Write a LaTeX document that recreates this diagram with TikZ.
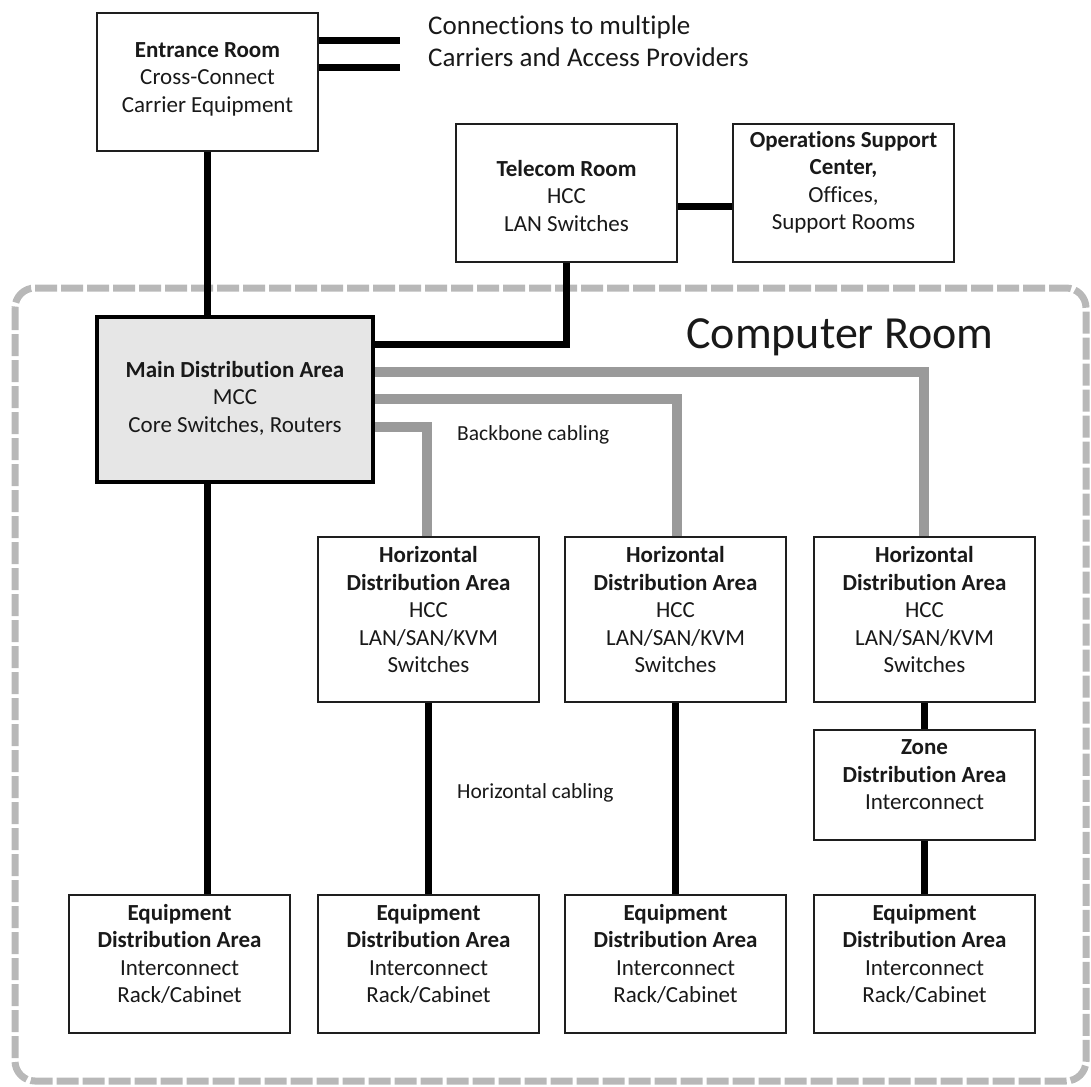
\documentclass[tikz,border=0pt]{standalone}
\usepackage{fontspec}
\setmainfont{Carlito}[Ligatures=NoCommon]
\definecolor{edge}{HTML}{1E1E1E}
\definecolor{bbgray}{HTML}{9A9A9A}
\definecolor{roomgray}{HTML}{B8B8B8}
\definecolor{mdafill}{HTML}{E6E6E6}
\pgfdeclarelayer{bg}
\pgfsetlayers{bg,main}
\begin{document}
\begin{tikzpicture}[x=1pt,y=-1pt,
  box/.style={draw=edge, line width=2pt, fill=white, minimum width=221pt, inner sep=0pt},
  txt/.style={align=center, inner sep=0pt, text=black!90, font=\fontsize{23}{27.5}\selectfont},
  note/.style={anchor=west, inner sep=0pt, text=black!90, font=\fontsize{21.5}{24}\selectfont},
  wire/.style={line width=7pt, black},
  backbone/.style={line width=10pt, bbgray},
  roomline/.style={line width=7pt, roomgray, dash pattern=on 22pt off 4pt, rounded corners=20pt}]
\useasboundingbox (0,0) rectangle (1091,1086);

% rooms outside the computer room
\node[box, minimum height=138pt] (entr) at (207.5,82) {};
\node[txt] (entrt) at (207.5,79) {\textbf{Entrance Room}\\Cross-Connect\\Carrier Equipment};
\node[box, minimum height=138pt] (tele) at (566.5,193) {};
\node[txt] (telet) at (566.5,196) {\textbf{Telecom Room}\\HCC\\LAN Switches};
\node[box, minimum height=138pt] (ops) at (843.5,193) {};
\node[txt] (opst) at (843.5,182.5) {\textbf{Operations Support}\\\textbf{Center,}\\Offices,\\Support Rooms};

\node[anchor=west, align=left, inner sep=0pt, text=black!90, font=\fontsize{27}{32}\selectfont]
  (carr) at (428,41) {Connections to multiple\\Carriers and Access Providers};

% computer room
\node[inner sep=0pt, text=black!90, font=\fontsize{46}{50}\selectfont] (crlabel) at (840,337) {Computer Room};

\node[box, draw=black, line width=3.5pt, fill=mdafill, minimum width=276pt, minimum height=165pt] (mda) at (235,399.5) {};
\node[txt] (mdat) at (235,398) {\textbf{Main Distribution Area}\\MCC\\Core Switches, Routers};

\foreach \n/\x in {1/428.5,2/675.5,3/924.5}{
  \node[box, minimum height=165pt] (hda\n) at (\x,619.5) {};
  \node[txt] (hda\n t) at (\x,610) {\textbf{Horizontal}\\\textbf{Distribution Area}\\HCC\\LAN/SAN/KVM\\Switches};
}

\node[box, minimum height=110pt] (zda) at (924.5,785) {};
\node[txt] (zdat) at (924.5,775) {\textbf{Zone}\\\textbf{Distribution Area}\\Interconnect};

\foreach \n/\x in {1/179.5,2/428.5,3/675.5,4/924.5}{
  \node[box, minimum height=138pt] (eda\n) at (\x,964) {};
  \node[txt] (eda\n t) at (\x,954) {\textbf{Equipment}\\\textbf{Distribution Area}\\Interconnect\\Rack/Cabinet};
}

\node[note] (bbl) at (457,435) {Backbone cabling};
\node[note] (hzl) at (457,793) {Horizontal cabling};

\begin{pgfonlayer}{bg}
  % computer room outline
  \draw[roomline] (15,288) rectangle (1086,1081);
  % carrier connections
  \coordinate (c1) at (400,41);
  \coordinate (c2) at (400,68);
  \draw[wire] (entr.east |- c1) -- (c1);
  \draw[wire] (entr.east |- c2) -- (c2);
  % black cabling
  \draw[wire] (entr.south) -- (entr.south |- mda.north);
  \draw[wire] ([yshift=-13pt]tele.east) -- ([yshift=-13pt]ops.west);
  \draw[wire] (tele.south) |- ([yshift=55.5pt]mda.east);
  \draw[wire] ([xshift=-28pt]mda.south) -- ([xshift=-28pt]mda.south |- eda1.north);
  \draw[wire] (hda1.south) -- (eda2.north);
  \draw[wire] (hda2.south) -- (eda3.north);
  \draw[wire] (hda3.south) -- (zda.north);
  \draw[wire] (zda.south) -- (eda4.north);
  % backbone cabling
  \draw[backbone] ([yshift=27.5pt]mda.east) -| ([xshift=-0.5pt]hda3.north);
  \draw[backbone] ([yshift=0.5pt]mda.east) -| ([xshift=1.5pt]hda2.north);
  \draw[backbone] ([yshift=-27.5pt]mda.east) -| ([xshift=-1.5pt]hda1.north);
\end{pgfonlayer}
\end{tikzpicture}
\end{document}
